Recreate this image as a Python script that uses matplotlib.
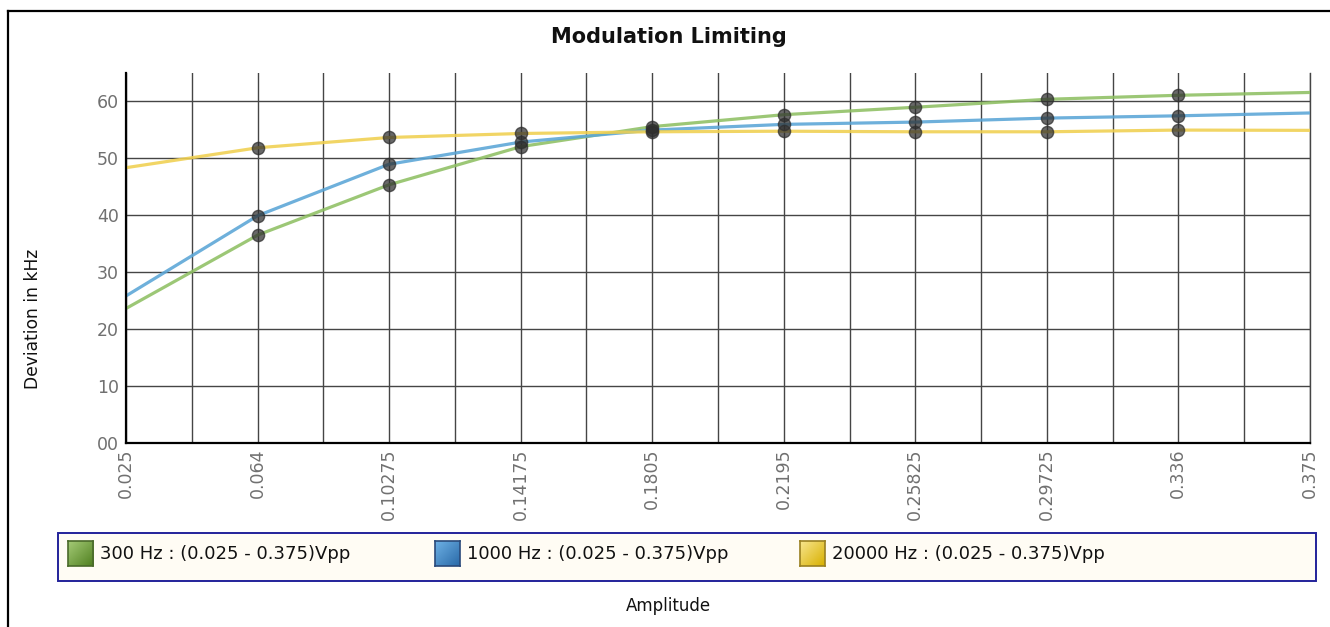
import numpy as np
import matplotlib
matplotlib.use("Agg")
import matplotlib.pyplot as plt
from matplotlib.lines import Line2D
from matplotlib.patches import Rectangle
from matplotlib.colors import LinearSegmentedColormap

# ---- data ----
amplitude = [0.025, 0.064, 0.10275, 0.14175, 0.1805, 0.2195, 0.25825, 0.29725, 0.336, 0.375]
tick_labels = ["0.025", "0.064", "0.10275", "0.14175", "0.1805", "0.2195",
               "0.25825", "0.29725", "0.336", "0.375"]
dev_300 = [23.6, 36.5, 45.3, 52.0, 55.5, 57.6, 58.9, 60.3, 61.0, 61.5]
dev_1000 = [25.8, 39.9, 48.9, 52.8, 54.9, 55.9, 56.3, 57.0, 57.4, 57.9]
dev_20000 = [48.3, 51.8, 53.6, 54.3, 54.6, 54.7, 54.6, 54.6, 54.9, 54.85]
series_names = ["300 Hz : (0.025 - 0.375)Vpp",
                "1000 Hz : (0.025 - 0.375)Vpp",
                "20000 Hz : (0.025 - 0.375)Vpp"]
y_ticks = [0, 10, 20, 30, 40, 50, 60]

line_colors = ["#8fc063", "#5aa5d6", "#f0d050"]
swatch_grad = [("#a6cc78", "#4f7f1f"), ("#6fb2e6", "#2a6aa8"), ("#f8e690", "#d8b000")]
swatch_edge = ["#4a6a2a", "#2a4a7a", "#9a8020"]

W, H = 1330, 627
fig = plt.figure(figsize=(W / 100, H / 100), dpi=100)
fig.patch.set_facecolor("white")

def fx(px):
    return px / W

def fy(py):
    return 1 - py / H

ax = fig.add_axes([fx(126), fy(443), fx(1310) - fx(126), fy(72.5) - fy(443)])
ax.set_facecolor("white")

series = [dev_300, dev_1000, dev_20000]
for vals, col in zip(series, line_colors):
    ax.plot(amplitude, vals, color=col, lw=2.3, alpha=0.88, zorder=3,
            solid_capstyle="butt", clip_on=False)
for vals in series:
    ax.plot(amplitude[1:-1], vals[1:-1], linestyle="none", marker="o",
            markersize=8.8, markerfacecolor="#2e2e2e", markeredgecolor="#2e2e2e",
            alpha=0.72, zorder=4)

ax.set_xlim(amplitude[0], amplitude[-1])
ax.set_ylim(0, 65)
ax.set_xticks(amplitude)
ax.set_xticklabels(tick_labels, rotation=90, va="top", ha="center",
                   fontsize=12.5, color="#707070", family="DejaVu Sans")
mids = [(amplitude[i] + amplitude[i + 1]) / 2 for i in range(len(amplitude) - 1)]
ax.set_xticks(mids, minor=True)
ax.set_yticks(y_ticks)
ax.set_yticklabels(["%02d" % v for v in y_ticks], fontsize=12.5, color="#707070",
                   family="DejaVu Sans")
ax.tick_params(axis="both", which="both", length=0)
ax.tick_params(axis="x", pad=4)
ax.tick_params(axis="y", pad=5)

ax.grid(True, which="major", axis="both", color="#454545", lw=1.0, zorder=1)
ax.grid(True, which="minor", axis="x", color="#454545", lw=1.0, zorder=1)
ax.set_axisbelow(True)

ax.spines["top"].set_visible(False)
ax.spines["right"].set_color("#454545")
ax.spines["right"].set_linewidth(1.0)
ax.spines["left"].set_color("black")
ax.spines["left"].set_linewidth(1.6)
ax.spines["bottom"].set_color("black")
ax.spines["bottom"].set_linewidth(1.6)
ax.spines["left"].set_zorder(5)
ax.spines["bottom"].set_zorder(5)

# title and axis labels
fig.text(fx(669), fy(37), "Modulation Limiting", ha="center", va="center",
         fontsize=15, fontweight="bold", family="DejaVu Sans", color="#111111")
fig.text(fx(668), fy(606), "Amplitude", ha="center", va="center",
         fontsize=12, family="DejaVu Sans", color="#111111")
fig.text(fx(33), fy(319), "Deviation in kHz", ha="center", va="center",
         rotation=90, fontsize=12.3, family="DejaVu Sans", color="#111111")

# outer frame (top and left edges)
fig.add_artist(Line2D([fx(8), 1.0], [fy(11), fy(11)], transform=fig.transFigure,
                      color="black", lw=1.6))
fig.add_artist(Line2D([fx(8), fx(8)], [fy(11), 0.0], transform=fig.transFigure,
                      color="black", lw=1.6))

# legend box
fig.add_artist(Rectangle((fx(58), fy(581)), fx(1316) - fx(58), fy(533) - fy(581),
                         transform=fig.transFigure, facecolor="#fffcf4",
                         edgecolor="#22229a", lw=1.4, zorder=0.5))
sw_x = [68, 435, 800]
for i, name in enumerate(series_names):
    sax = fig.add_axes([fx(sw_x[i]), fy(566), fx(25), fy(541) - fy(566)])
    sax.set_zorder(3)
    cmap = LinearSegmentedColormap.from_list("g%d" % i, list(swatch_grad[i]))
    gx, gy = np.meshgrid(np.linspace(0, 1, 40), np.linspace(0, 1, 40))
    sax.imshow((gx + gy) / 2, cmap=cmap, aspect="auto", interpolation="bilinear")
    sax.set_xticks([])
    sax.set_yticks([])
    for sp in sax.spines.values():
        sp.set_color(swatch_edge[i])
        sp.set_linewidth(1.2)
    fig.text(fx(sw_x[i] + 32), fy(554), name, ha="left", va="center",
             fontsize=13, family="DejaVu Sans", color="#111111", zorder=4)

fig.savefig("out.png", dpi=100)
